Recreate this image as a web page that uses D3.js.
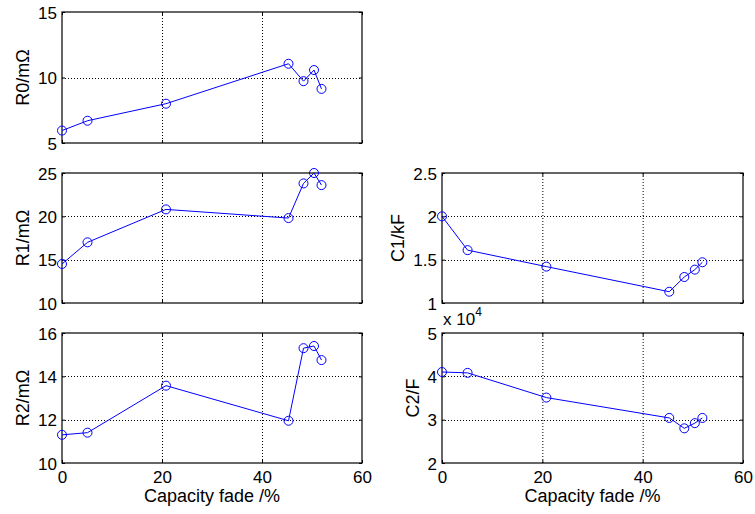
<!DOCTYPE html>
<html>
<head>
<meta charset="utf-8">
<script src="https://cdn.jsdelivr.net/npm/d3@7"></script>
<style>
  body { margin: 0; background: #fff; }
  text { font-family: "Liberation Sans", Arial, sans-serif; fill: #000; }
</style>
</head>
<body>
<div class="chart"></div>
<script>
// capacity fade (%) shared by all panels
var capacityFade = [0, 5.1, 20.8, 45.3, 48.3, 50.4, 51.9];

var r0 = [5.95, 6.7, 8.0, 11.05, 9.72, 10.57, 9.13];
var r1 = [14.5, 17.0, 20.8, 19.8, 23.8, 25.0, 23.6];
var r2 = [11.3, 11.4, 13.57, 11.95, 15.3, 15.4, 14.75];
var c1 = [2.0, 1.61, 1.42, 1.13, 1.30, 1.385, 1.47];
var c2 = [41000, 40800, 35100, 30400, 28000, 29200, 30400];

var xTicks = [0, 20, 40, 60];
var r0Ticks = [5, 10, 15];
var r1Ticks = [10, 15, 20, 25];
var r2Ticks = [10, 12, 14, 16];
var c1Ticks = [1, 1.5, 2, 2.5];
var c2Ticks = [20000, 30000, 40000, 50000];

var width = 755, height = 514;

var svg = d3.select(".chart")
  .append("svg")
    .attr("width", width)
    .attr("height", height);

// column / row boxes
var cols = [[62, 362], [442, 743]];
var rows = [[12, 143], [173, 303], [333, 463]];

var panels = [
  {values: r0, ticks: r0Ticks, label: "R0/m\u03A9", col: 0, row: 0, xLabels: false},
  {values: r1, ticks: r1Ticks, label: "R1/m\u03A9", col: 0, row: 1, xLabels: false},
  {values: r2, ticks: r2Ticks, label: "R2/m\u03A9", col: 0, row: 2, xLabels: true},
  {values: c1, ticks: c1Ticks, label: "C1/kF", col: 1, row: 1, xLabels: false},
  {values: c2, ticks: c2Ticks, label: "C2/F", col: 1, row: 2, xLabels: true, exp: 4}
];

panels.forEach(function(p) {
  var x0 = cols[p.col][0], x1 = cols[p.col][1];
  var y0 = rows[p.row][0], y1 = rows[p.row][1];
  var x = d3.scaleLinear().domain([0, 60]).range([x0, x1]);
  var y = d3.scaleLinear().domain(d3.extent(p.ticks)).range([y1, y0]);
  var fmt = p.exp ? function(d) { return d / Math.pow(10, p.exp); } : function(d) { return d; };
  var g = svg.append("g");

  // dotted grid
  g.selectAll(".gx").data(xTicks.slice(1, -1)).enter()
    .append("line")
      .attr("x1", function(d) { return x(d) + 0.5; })
      .attr("x2", function(d) { return x(d) + 0.5; })
      .attr("y1", y0).attr("y2", y1)
      .attr("stroke", "#000").attr("stroke-dasharray", "1,2");
  g.selectAll(".gy").data(p.ticks.slice(1, -1)).enter()
    .append("line")
      .attr("y1", function(d) { return Math.round(y(d)) + 0.5; })
      .attr("y2", function(d) { return Math.round(y(d)) + 0.5; })
      .attr("x1", x0).attr("x2", x1)
      .attr("stroke", "#000").attr("stroke-dasharray", "1,2");

  // axes with inner ticks on all sides
  var xAxis = g.append("g").attr("transform", "translate(0," + y1 + ")")
    .call(d3.axisBottom(x).tickValues(xTicks).tickSizeInner(-3).tickSizeOuter(0)
      .tickFormat(p.xLabels ? null : ""))
    .call(styleAxis);
  g.append("g").attr("transform", "translate(0," + y0 + ")")
    .call(d3.axisTop(x).tickValues(xTicks).tickSizeInner(-3).tickSizeOuter(0).tickFormat(""))
    .call(styleAxis);
  var yAxis = g.append("g").attr("transform", "translate(" + x0 + ",0)")
    .call(d3.axisLeft(y).tickValues(p.ticks).tickSizeInner(-3).tickSizeOuter(0).tickFormat(fmt))
    .call(styleAxis);
  g.append("g").attr("transform", "translate(" + x1 + ",0)")
    .call(d3.axisRight(y).tickValues(p.ticks).tickSizeInner(-3).tickSizeOuter(0).tickFormat(""))
    .call(styleAxis);

  yAxis.selectAll("text").attr("x", -5).attr("dy", "0.36em");
  xAxis.selectAll("text").attr("y", 8).attr("dy", "0.71em");

  // box
  g.append("rect")
    .attr("x", x0).attr("y", y0)
    .attr("width", x1 - x0).attr("height", y1 - y0)
    .attr("fill", "none").attr("stroke", "#000").attr("stroke-width", 1.2);

  // y label placed left of the widest tick label
  var maxW = d3.max(yAxis.selectAll("text").nodes(), function(n) { return n.getBBox().width; });
  var lx = x0 - 5 - maxW - 9;
  var cy = (y0 + y1) / 2;
  g.append("text")
    .attr("transform", "translate(" + lx + "," + cy + ") rotate(-90)")
    .attr("text-anchor", "middle")
    .style("font-size", "18px")
    .text(p.label);

  if (p.xLabels) {
    g.append("text")
      .attr("x", (x0 + x1) / 2).attr("y", 502)
      .attr("text-anchor", "middle")
      .style("font-size", "18px")
      .text("Capacity fade /%");
  }

  if (p.exp) {
    var t = g.append("text").attr("x", x0 + 1).attr("y", y0 - 8).style("font-size", "17px");
    t.append("tspan").text("x 10");
    t.append("tspan").attr("dy", -9).style("font-size", "12px").text(p.exp);
  }

  // series
  var pts = capacityFade.map(function(c, i) { return [c, p.values[i]]; });
  g.append("path")
    .datum(pts)
    .attr("fill", "none")
    .attr("stroke", "#0000ff")
    .attr("stroke-width", 1)
    .attr("d", d3.line().x(function(d) { return x(d[0]); }).y(function(d) { return y(d[1]); }));
  g.selectAll(".mk").data(pts).enter()
    .append("circle")
      .attr("cx", function(d) { return x(d[0]); })
      .attr("cy", function(d) { return y(d[1]); })
      .attr("r", 4.5)
      .attr("fill", "none")
      .attr("stroke", "#0000ff")
      .attr("stroke-width", 1);
});

function styleAxis(sel) {
  sel.select(".domain").remove();
  sel.selectAll("line").attr("stroke", "#000");
  sel.selectAll("text").style("font-size", "17px").attr("fill", "#000");
}
</script>
</body>
</html>
